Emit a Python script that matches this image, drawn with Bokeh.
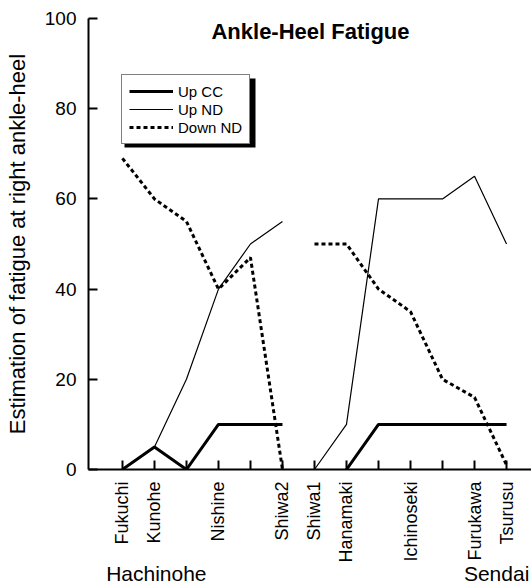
import math
from bokeh.plotting import figure
from bokeh.models import Legend, LegendItem, Label, BoxAnnotation, FixedTicker, LinearAxis
from bokeh.embed import file_html
from bokeh.resources import INLINE

# ---- data ----
hachinohe_stations = ["Fukuchi", "Kunohe", "", "Nishine", "", "Shiwa2"]
sendai_stations = ["Shiwa1", "Hanamaki", "", "Ichinoseki", "", "Furukawa", "Tsurusu"]
stations = hachinohe_stations + sendai_stations

region_names = ["Hachinohe", "Sendai"]
region_pos = [1.06, 11.69]

nan = float("nan")
up_cc_h = [0, 5, 0, 10, 10, 10]
up_cc_s = [nan, 0, 10, 10, 10, 10, 10]
up_nd_h = [0, 5, 20, 40, 50, 55]
up_nd_s = [0, 10, 60, 60, 60, 65, 50]
down_nd_h = [69, 60, 55, 40, 47, 0]
down_nd_s = [50, 50, 40, 35, 20, 16, 1]

y_ticks = [0, 20, 40, 60, 80, 100]

xh = list(range(len(hachinohe_stations)))
xs = list(range(len(hachinohe_stations), len(stations)))

FONT = "Liberation Sans"

p = figure(width=531, height=587, x_range=(-1.06, 12.78), y_range=(0, 100),
           output_backend="svg", toolbar_location=None,
           min_border_left=88, min_border_top=18, min_border_right=0,
           min_border_bottom=117)
p.grid.visible = False
p.outline_line_color = None
p.background_fill_color = "white"

# lines
cc1 = p.line(xh, up_cc_h, line_color="black", line_width=3)
cc2 = p.line(xs, up_cc_s, line_color="black", line_width=3)
nd1 = p.line(xh, up_nd_h, line_color="black", line_width=1.2)
nd2 = p.line(xs, up_nd_s, line_color="black", line_width=1.2)
dn1 = p.line(xh, down_nd_h, line_color="black", line_width=3, line_dash="4 3")
dn2 = p.line(xs, down_nd_s, line_color="black", line_width=3, line_dash="4 3")

# axes
xa = p.xaxis[0]
xa.ticker = FixedTicker(ticks=list(range(len(stations))))
xa.major_label_overrides = {i: s for i, s in enumerate(stations)}
xa.major_label_orientation = math.pi / 2
xa.major_tick_in = 9
xa.major_tick_out = 0
xa.minor_tick_line_color = None
xa.axis_line_width = 2
xa.major_tick_line_width = 2
xa.major_label_standoff = 12
xa.major_label_text_font = FONT
xa.major_label_text_font_size = "18px"
xa.major_label_text_color = "black"

# second axis carrying the region names
ra = LinearAxis(ticker=FixedTicker(ticks=region_pos),
                major_label_overrides={pos: n for pos, n in zip(region_pos, region_names)},
                axis_line_color=None, major_tick_line_color=None,
                minor_tick_line_color=None, major_tick_in=0, major_tick_out=0,
                major_label_standoff=-4, major_label_text_font=FONT,
                major_label_text_font_size="21px", major_label_text_color="black")
p.add_layout(ra, "below")

ya = p.yaxis[0]
ya.ticker = FixedTicker(ticks=y_ticks)
ya.major_tick_in = 9
ya.major_tick_out = 0
ya.minor_tick_line_color = None
ya.axis_line_width = 2
ya.major_tick_line_width = 2
ya.major_label_standoff = 12
ya.major_label_text_font = FONT
ya.major_label_text_font_size = "19px"
ya.major_label_text_color = "black"
ya.axis_label = "Estimation of fatigue at right ankle-heel"
ya.axis_label_text_font = FONT
ya.axis_label_text_font_size = "22px"
ya.axis_label_text_font_style = "normal"
ya.axis_label_text_color = "black"
ya.axis_label_standoff = 12

# title inside plot
p.add_layout(Label(x=5.875, y=97.2, text="Ankle-Heel Fatigue", text_align="center",
                   text_baseline="middle", text_font=FONT, text_font_size="22px",
                   text_font_style="bold", text_color="black"))

# legend shadow
p.add_layout(BoxAnnotation(left=36, right=167, bottom=322, top=391,
                           left_units="screen", right_units="screen",
                           bottom_units="screen", top_units="screen",
                           fill_color="black", fill_alpha=1, line_color=None,
                           propagate_hover=False))

legend = Legend(items=[LegendItem(label="Up CC", renderers=[cc1]),
                       LegendItem(label="Up ND", renderers=[nd1]),
                       LegendItem(label="Down ND", renderers=[dn1])],
                location=(33, 325), orientation="vertical",
                border_line_color="black", border_line_width=1.5,
                background_fill_color="white", background_fill_alpha=1,
                padding=7, spacing=0, margin=0, label_standoff=5,
                glyph_width=44, glyph_height=18, label_height=18,
                label_text_font=FONT, label_text_font_size="15px",
                label_text_color="black")
p.add_layout(legend, "center")

open("out.html", "w").write(file_html(p, INLINE))
